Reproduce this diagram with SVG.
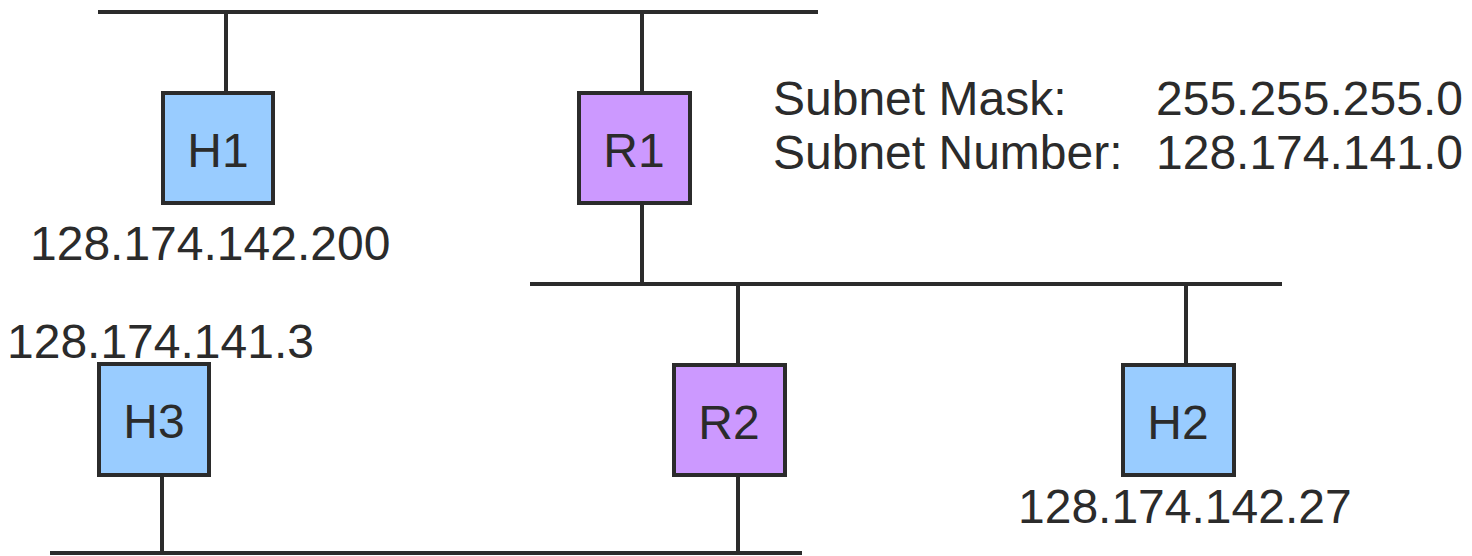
<svg xmlns="http://www.w3.org/2000/svg" width="1472" height="556" viewBox="0 0 1472 556">
<style>
.bus,.link{stroke:#2b2b2b;stroke-width:4;fill:none}
.host{fill:#99ccff;stroke:#2b2b2b;stroke-width:4}
.router{fill:#cc99ff;stroke:#2b2b2b;stroke-width:4}
text{font-family:"Liberation Sans",Arial,sans-serif;font-size:48px;fill:#2b2b2b}
.c{text-anchor:middle}
</style>
<rect width="1472" height="556" fill="#ffffff"/>
<g id="connectors">
<line class="bus" x1="98" y1="12" x2="818" y2="12"/>
<line class="bus" x1="530" y1="284" x2="1282" y2="284"/>
<line class="bus" x1="50" y1="553" x2="802" y2="553"/>
<line class="link" x1="226" y1="12" x2="226" y2="93"/>
<line class="link" x1="642" y1="12" x2="642" y2="93"/>
<line class="link" x1="642" y1="203" x2="642" y2="284"/>
<line class="link" x1="738" y1="284" x2="738" y2="365"/>
<line class="link" x1="738" y1="475" x2="738" y2="553"/>
<line class="link" x1="1186" y1="284" x2="1186" y2="365"/>
<line class="link" x1="162" y1="475" x2="162" y2="553"/>
</g>
<g id="H1">
<rect class="host" x="163" y="93" width="110" height="110"/>
<text class="c" x="218" y="167">H1</text>
<text x="30" y="260">128.174.142.200</text>
</g>
<g id="R1">
<rect class="router" x="579" y="93" width="111" height="110"/>
<text class="c" x="634" y="167">R1</text>
</g>
<g id="H3">
<rect class="host" x="99" y="364" width="110" height="111"/>
<text class="c" x="154" y="438">H3</text>
<text x="7" y="358">128.174.141.3</text>
</g>
<g id="R2">
<rect class="router" x="674" y="365" width="111" height="110"/>
<text class="c" x="729" y="439">R2</text>
</g>
<g id="H2">
<rect class="host" x="1123" y="365" width="111" height="110"/>
<text class="c" x="1178" y="439">H2</text>
<text x="1018" y="523">128.174.142.27</text>
</g>
<g id="subnet-info">
<text x="773" y="115">Subnet Mask:</text>
<text x="1156" y="115">255.255.255.0</text>
<text x="773" y="169">Subnet Number:</text>
<text x="1156" y="169">128.174.141.0</text>
</g>
</svg>
